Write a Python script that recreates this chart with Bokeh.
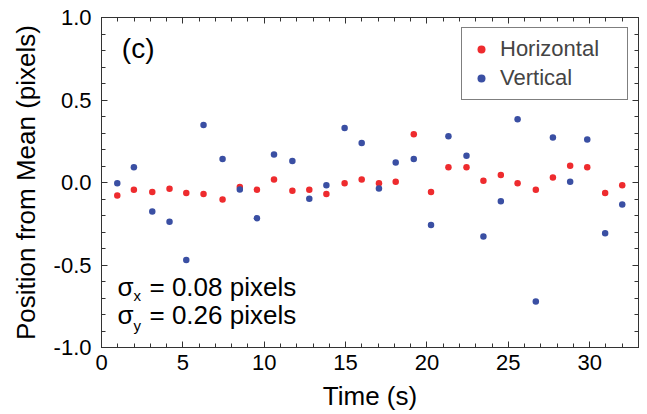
from bokeh.plotting import figure
from bokeh.models import (Range1d, SingleIntervalTicker, LinearAxis, NumeralTickFormatter,
                          Legend, LegendItem, Label)
from bokeh.embed import file_html
from bokeh.resources import INLINE

time_s = [0.97, 1.99, 3.12, 4.18, 5.21, 6.27, 7.44, 8.50, 9.55, 10.60, 11.73, 12.77, 13.82, 14.94, 15.99,
          17.05, 18.08, 19.19, 20.25, 21.32, 22.43, 23.47, 24.54, 25.57, 26.69, 27.74, 28.80, 29.85, 30.95, 32.00]
horizontal = [-0.079, -0.044, -0.058, -0.038, -0.064, -0.070, -0.103, -0.028, -0.044, 0.018, -0.050, -0.044,
              -0.070, -0.004, 0.018, -0.004, 0.004, 0.293, -0.058, 0.093, 0.093, 0.010, 0.045, -0.004, -0.044,
              0.030, 0.101, 0.093, -0.064, -0.016]
vertical = [-0.004, 0.093, -0.176, -0.238, -0.470, 0.348, 0.142, -0.042, -0.216, 0.170, 0.130, -0.099, -0.016,
            0.330, 0.239, -0.036, 0.121, 0.142, -0.258, 0.281, 0.162, -0.327, -0.113, 0.384, -0.721, 0.273,
            0.004, 0.261, -0.307, -0.133]
series_names = ["Horizontal", "Vertical"]
sigma_lines = [("σ", "x", "= 0.08 pixels"), ("σ", "y", "= 0.26 pixels")]
panel_tag = "(c)"

FONT = "Liberation Sans"
RED = "#ee2b2e"
BLUE = "#3a4fa3"
FRAME = "#333333"

p = figure(width=640, height=414, output_backend="svg", toolbar_location=None,
           x_range=Range1d(0, 33), y_range=Range1d(-1.0, 1.0),
           min_border_left=101, min_border_right=2, min_border_top=17, min_border_bottom=67)
p.background_fill_color = "white"
p.border_fill_color = "white"
p.outline_line_color = FRAME
p.outline_line_width = 1
p.grid.visible = False

xt = SingleIntervalTicker(interval=5, num_minor_ticks=5)
yt = SingleIntervalTicker(interval=0.5, num_minor_ticks=5)


def style_axis(ax, ticker, labels=True):
    ax.ticker = ticker
    ax.axis_line_color = FRAME
    ax.major_tick_in = 6
    ax.major_tick_out = 0
    ax.minor_tick_in = 4
    ax.minor_tick_out = 0
    ax.major_tick_line_color = FRAME
    ax.minor_tick_line_color = FRAME
    if labels:
        ax.major_label_text_font = FONT
        ax.major_label_text_font_size = "22px"
        ax.major_label_text_color = "black"
        ax.axis_label_text_font = FONT
        ax.axis_label_text_font_size = "26px"
        ax.axis_label_text_font_style = "normal"
        ax.axis_label_text_color = "black"
    else:
        ax.major_label_text_font_size = "1px"
        ax.major_label_text_color = None
        ax.major_label_standoff = 0


p.xaxis.axis_label = "Time (s)"
p.yaxis.axis_label = "Position from Mean (pixels)"
style_axis(p.xaxis[0], xt)
style_axis(p.yaxis[0], yt)
p.yaxis[0].formatter = NumeralTickFormatter(format="0.0")
p.xaxis[0].major_label_standoff = 7
p.xaxis[0].axis_label_standoff = 8
p.yaxis[0].major_label_standoff = 10
p.yaxis[0].axis_label_standoff = 10

top_ax = LinearAxis()
style_axis(top_ax, SingleIntervalTicker(interval=5, num_minor_ticks=5), labels=False)
p.add_layout(top_ax, "above")
right_ax = LinearAxis()
style_axis(right_ax, SingleIntervalTicker(interval=0.5, num_minor_ticks=5), labels=False)
p.add_layout(right_ax, "right")

r_h = p.scatter(time_s, horizontal, size=6.5, color=RED, line_color=None)
r_v = p.scatter(time_s, vertical, size=6.5, color=BLUE, line_color=None)

legend = Legend(items=[LegendItem(label=series_names[0], renderers=[r_h]),
                       LegendItem(label=series_names[1], renderers=[r_v])],
                location="top_right")
legend.margin = 10
legend.padding = 8
legend.spacing = 3
legend.glyph_width = 22
legend.label_standoff = 8
legend.label_width = 119
legend.label_text_font = FONT
legend.label_text_font_size = "22px"
legend.border_line_color = "black"
legend.border_line_width = 1
legend.background_fill_alpha = 1
p.add_layout(legend)

p.add_layout(Label(x=1.25, y=0.815, text=panel_tag, text_font=FONT, text_font_size="28px",
                   text_color="black", text_baseline="alphabetic"))

line_y = [-0.635, -0.806]
sub_y = [-0.685, -0.868]
for (sym, sub, rest), yb, ys in zip(sigma_lines, line_y, sub_y):
    p.add_layout(Label(x=0.98, y=yb, text=sym, text_font=FONT, text_font_size="26px",
                       text_color="black", text_baseline="alphabetic"))
    p.add_layout(Label(x=1.97, y=ys, text=sub, text_font=FONT, text_font_size="15px",
                       text_color="black", text_baseline="alphabetic"))
    p.add_layout(Label(x=2.95, y=yb, text=rest, text_font=FONT, text_font_size="26px",
                       text_color="black", text_baseline="alphabetic"))

open("out.html", "w").write(file_html(p, INLINE))
